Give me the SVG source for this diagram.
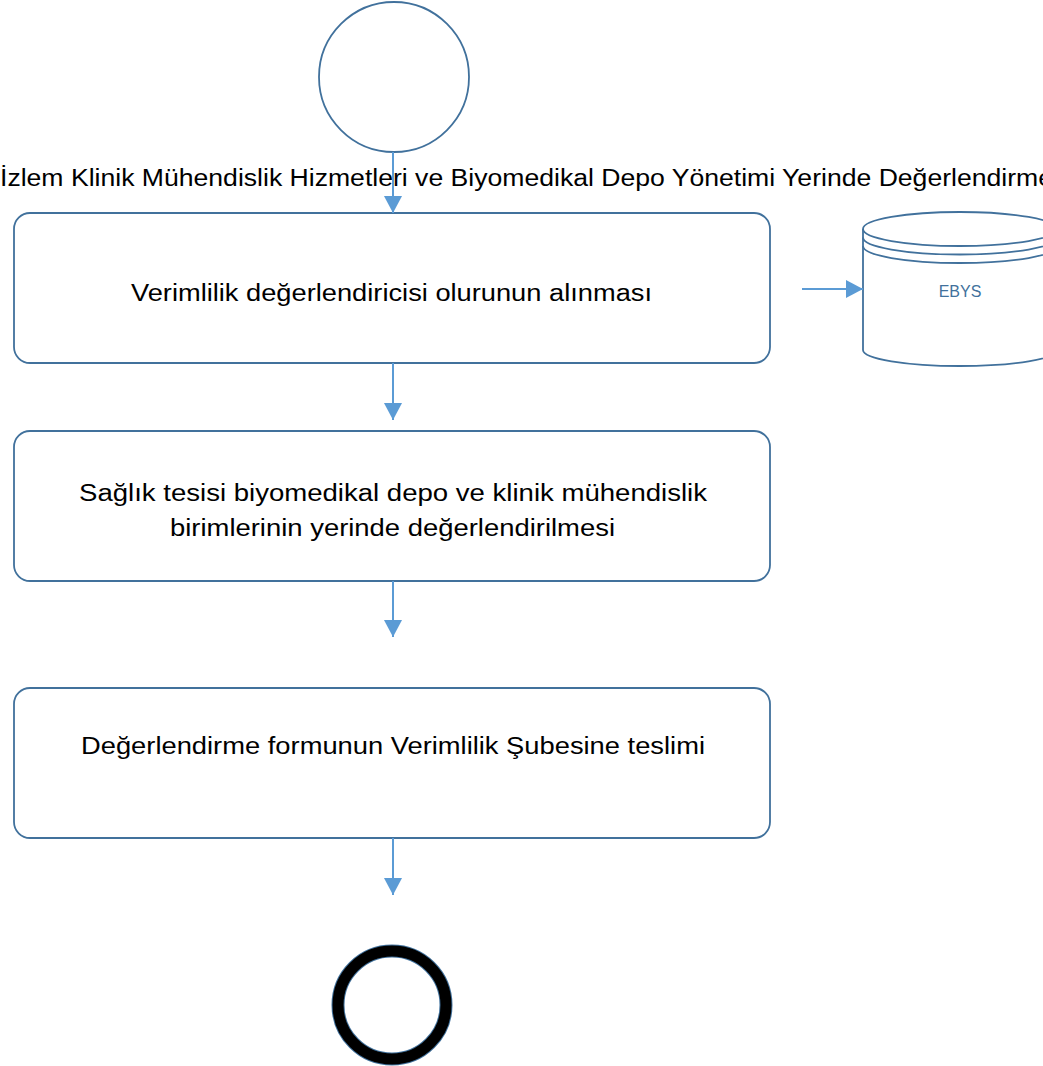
<svg xmlns="http://www.w3.org/2000/svg" width="1043" height="1066" viewBox="0 0 1043 1066">
<style>
.shape{fill:#fff;stroke:#41719C;stroke-width:1.8}
.conn{stroke:#5B9BD5;stroke-width:2;fill:none}
.lbl{font-family:"Liberation Sans",Arial,sans-serif;font-size:23px;fill:#000}
.db{font-family:"Liberation Sans",Arial,sans-serif;font-size:16px;fill:#41719C}
</style>
<defs>
<marker id="ah2" markerWidth="17" markerHeight="18" refX="17" refY="9" orient="auto" markerUnits="userSpaceOnUse" viewBox="0 0 17 18">
<path d="M0,0 L17,9 L0,18 Z" fill="#5B9BD5"/>
</marker>
</defs>
<g id="start">
<circle class="shape" cx="394" cy="77" r="75"/>
</g>
<text class="lbl" x="0" y="186" textLength="1053" lengthAdjust="spacingAndGlyphs">İzlem Klinik Mühendislik Hizmetleri ve Biyomedikal Depo Yönetimi Yerinde Değerlendirme</text>
<g id="step1">
<rect class="shape" x="14" y="213" width="756" height="150" rx="16"/>
<text class="lbl" x="131" y="301" textLength="521" lengthAdjust="spacingAndGlyphs">Verimlilik değerlendiricisi olurunun alınması</text>
</g>
<g id="ebys">
<path class="shape" d="M863,229 L863,350 A97,16 0 0 0 1057,350 L1057,229 A97,17 0 0 0 863,229 Z"/>
<path class="shape" style="fill:none" d="M863,229 A97,17 0 0 0 1057,229"/>
<path class="shape" style="fill:none" d="M863,237.5 A97,17 0 0 0 1057,237.5"/>
<path class="shape" style="fill:none" d="M863,246 A97,17 0 0 0 1057,246"/>
<text class="db" x="960" y="297" text-anchor="middle">EBYS</text>
</g>
<g id="step2">
<rect class="shape" x="14" y="431" width="756" height="150" rx="16"/>
<text class="lbl" x="79" y="501" textLength="628" lengthAdjust="spacingAndGlyphs">Sağlık tesisi biyomedikal depo ve klinik mühendislik</text>
<text class="lbl" x="170" y="536" textLength="445" lengthAdjust="spacingAndGlyphs">birimlerinin yerinde değerlendirilmesi</text>
</g>
<g id="step3">
<rect class="shape" x="14" y="688" width="756" height="150" rx="16"/>
<text class="lbl" x="81" y="754" textLength="624" lengthAdjust="spacingAndGlyphs">Değerlendirme formunun Verimlilik Şubesine teslimi</text>
</g>
<g id="end">
<circle cx="392" cy="1005" r="54" fill="#fff" stroke="#41719C" stroke-width="13"/>
<circle cx="392" cy="1005" r="54" fill="none" stroke="#000" stroke-width="11"/>
</g>
<g id="connectors">
<line class="conn" x1="393" y1="152" x2="393" y2="213" marker-end="url(#ah2)"/>
<line class="conn" x1="802" y1="289" x2="863" y2="289" marker-end="url(#ah2)"/>
<line class="conn" x1="393" y1="363" x2="393" y2="420" marker-end="url(#ah2)"/>
<line class="conn" x1="393" y1="581" x2="393" y2="637" marker-end="url(#ah2)"/>
<line class="conn" x1="393" y1="838" x2="393" y2="895" marker-end="url(#ah2)"/>
</g>
</svg>
